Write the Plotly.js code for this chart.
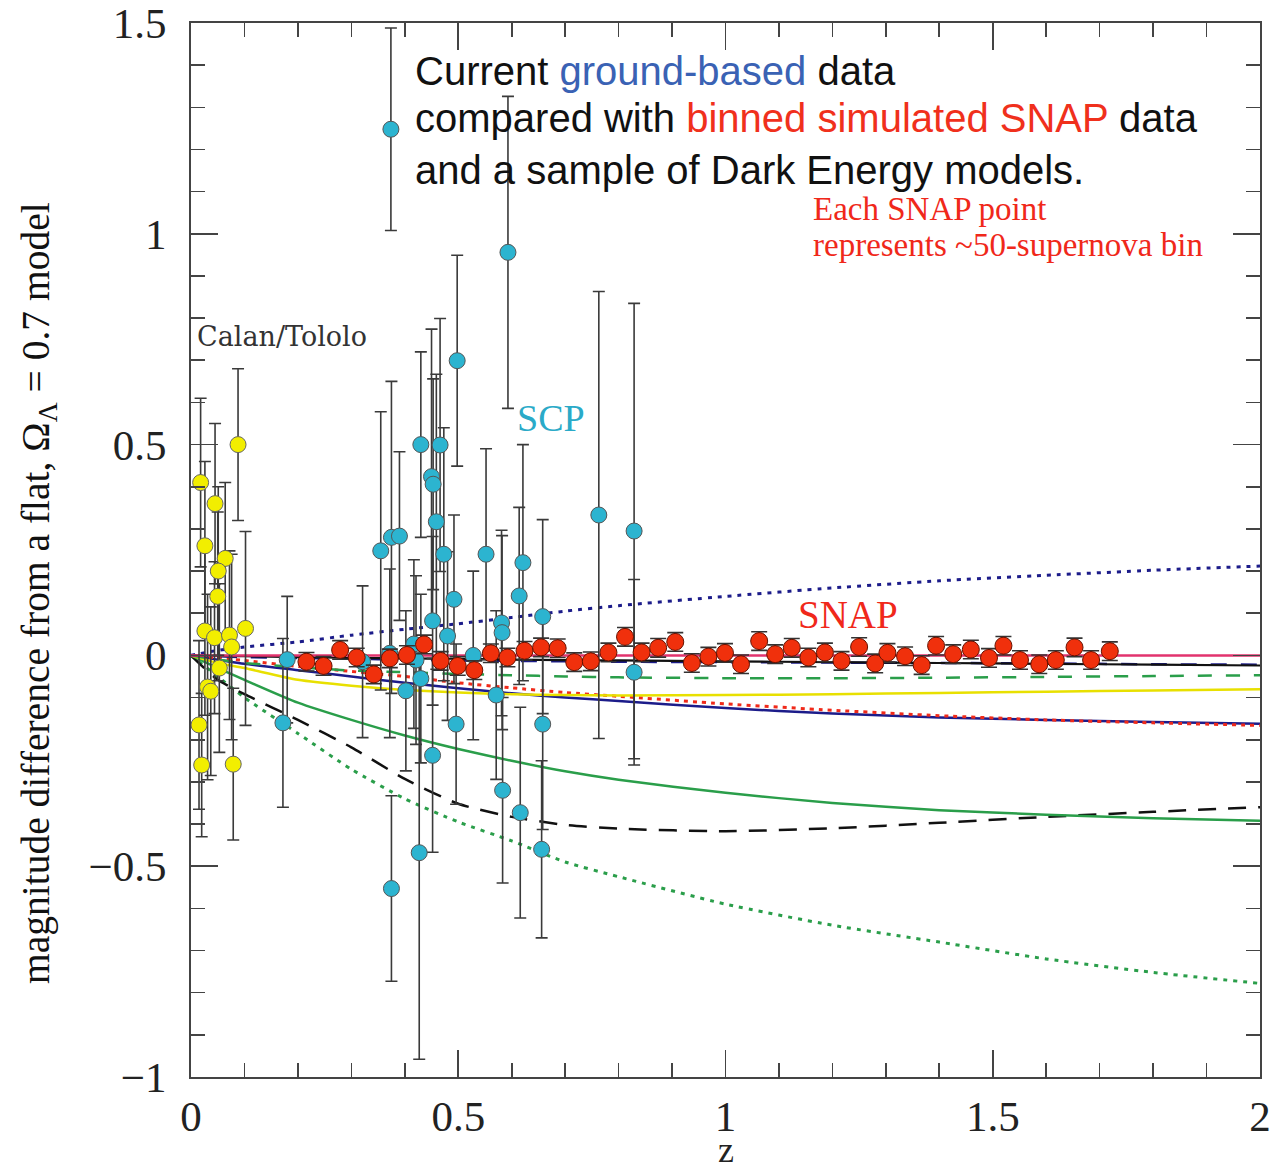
<!DOCTYPE html>
<html>
<head>
<meta charset="utf-8">
<script src="https://cdn.plot.ly/plotly-3.0.1.min.js"></script>
<style>html,body{margin:0;padding:0;background:#fff;} #chart{width:1287px;height:1170px;}</style>
</head>
<body>
<div id="chart"></div>
<script>
// ---------- data ----------
// Calan/Tololo (yellow)
const ctZ   = [0.088, 0.018, 0.045, 0.026, 0.064, 0.051, 0.050, 0.102, 0.026, 0.044, 0.072, 0.076, 0.053, 0.031, 0.037, 0.015, 0.020, 0.079];
const ctMag = [0.50, 0.41, 0.36, 0.26, 0.23, 0.20, 0.14, 0.064, 0.058, 0.042, 0.048, 0.020, -0.030, -0.075, -0.085, -0.165, -0.260, -0.258];
const ctErr = [0.18, 0.20, 0.19, 0.20, 0.18, 0.20, 0.20, 0.23, 0.20, 0.18, 0.20, 0.22, 0.20, 0.22, 0.20, 0.20, 0.17, 0.18];

// SCP (cyan)
const scpZ   = [0.172, 0.180, 0.321, 0.355, 0.372, 0.374, 0.375, 0.375, 0.390, 0.402, 0.417, 0.421, 0.427, 0.430, 0.430, 0.450, 0.453, 0.452, 0.452, 0.459, 0.466, 0.473, 0.480, 0.492, 0.496, 0.498, 0.528, 0.552, 0.571, 0.581, 0.582, 0.583, 0.593, 0.614, 0.616, 0.621, 0.658, 0.658, 0.656, 0.763, 0.829, 0.829];
const scpMag = [-0.16, -0.01, -0.015, 0.248, 0.005, 1.248, 0.28, -0.553, 0.283, -0.084, 0.027, -0.011, -0.468, 0.50, -0.055, 0.424, 0.406, 0.082, -0.237, 0.317, 0.499, 0.24, 0.046, 0.133, -0.163, 0.699, 0.00, 0.24, -0.094, 0.077, 0.054, -0.32, 0.956, 0.141, -0.373, 0.22, 0.092, -0.163, -0.46, 0.333, 0.295, -0.04];
const scpErr = [0.20, 0.15, 0.18, 0.33, 0.20, 0.24, 0.37, 0.22, 0.20, 0.19, 0.20, 0.20, 0.49, 0.22, 0.20, 0.35, 0.25, 0.20, 0.23, 0.35, 0.30, 0.30, 0.20, 0.20, 0.19, 0.25, 0.20, 0.25, 0.20, 0.22, 0.23, 0.22, 0.37, 0.21, 0.25, 0.28, 0.23, 0.25, 0.21, 0.53, 0.54, 0.22];

// simulated SNAP bins (red)
const snapZ   = [0.216, 0.248, 0.279, 0.310, 0.342, 0.372, 0.404, 0.436, 0.467, 0.499, 0.530, 0.561, 0.592, 0.624, 0.655, 0.686, 0.717, 0.748, 0.781, 0.812, 0.843, 0.874, 0.906, 0.937, 0.968, 0.999, 1.029, 1.063, 1.093, 1.124, 1.155, 1.186, 1.217, 1.250, 1.280, 1.303, 1.336, 1.367, 1.394, 1.426, 1.459, 1.493, 1.520, 1.551, 1.587, 1.618, 1.653, 1.684, 1.719];
const snapMag = [-0.015, -0.025, 0.013, -0.005, -0.045, -0.007, 0.001, 0.026, -0.013, -0.025, -0.035, 0.005, -0.005, 0.011, 0.019, 0.017, -0.016, -0.014, 0.007, 0.044, 0.007, 0.018, 0.032, -0.018, -0.003, 0.006, -0.021, 0.034, 0.003, 0.018, -0.005, 0.007, -0.013, 0.020, -0.019, 0.006, -0.002, -0.023, 0.023, 0.003, 0.014, -0.006, 0.023, -0.011, -0.021, -0.011, 0.019, -0.011, 0.010];
const snapErr = 0.022;

// dark energy model curves
const modelZ       = [0, 0.05, 0.1, 0.2, 0.3, 0.4, 0.5, 0.6, 0.7, 0.8, 1.0, 1.2, 1.4, 1.6, 1.8, 2.0];
const pinkSolid    = [0, 0, 0, 0, 0, 0, 0, 0, 0, 0, 0, 0, 0, 0, 0, 0];
const blackSolid   = [0, -0.001, -0.002, -0.004, -0.006, -0.007, -0.008, -0.010, -0.011, -0.012, -0.014, -0.016, -0.018, -0.020, -0.022, -0.024];
const navyDashed   = [0, -0.002, -0.004, -0.006, -0.008, -0.010, -0.012, -0.013, -0.014, -0.015, -0.016, -0.017, -0.018, -0.019, -0.021, -0.022];
const greenDashed  = [0, -0.010, -0.018, -0.028, -0.036, -0.040, -0.044, -0.047, -0.050, -0.052, -0.054, -0.054, -0.053, -0.051, -0.049, -0.047];
const yellowSolid  = [0, -0.018, -0.030, -0.058, -0.072, -0.082, -0.088, -0.092, -0.094, -0.095, -0.094, -0.092, -0.089, -0.086, -0.083, -0.080];
const redDotted    = [0, -0.006, -0.012, -0.026, -0.038, -0.050, -0.065, -0.077, -0.088, -0.097, -0.115, -0.130, -0.143, -0.153, -0.160, -0.166];
const navySolid    = [0, -0.010, -0.020, -0.035, -0.050, -0.065, -0.078, -0.090, -0.100, -0.108, -0.125, -0.138, -0.147, -0.153, -0.158, -0.162];
const navyDotted   = [0, 0.012, 0.020, 0.032, 0.048, 0.062, 0.075, 0.090, 0.105, 0.118, 0.140, 0.160, 0.177, 0.190, 0.202, 0.212];
const greenSolid   = [0, -0.030, -0.058, -0.112, -0.153, -0.190, -0.222, -0.250, -0.275, -0.295, -0.326, -0.350, -0.367, -0.378, -0.386, -0.392];
const blackDashed  = [0, -0.058, -0.092, -0.153, -0.218, -0.293, -0.352, -0.383, -0.402, -0.411, -0.417, -0.410, -0.397, -0.383, -0.371, -0.360];
const greenDotted  = [0, -0.050, -0.100, -0.185, -0.270, -0.340, -0.395, -0.440, -0.490, -0.525, -0.590, -0.640, -0.680, -0.720, -0.752, -0.778];

// tick labels
const xTickVals = [0, 0.5, 1, 1.5, 2];
const xTickText = ['0', '0.5', '1', '1.5', '2'];
const yTickVals = [-1, -0.5, 0, 0.5, 1, 1.5];
const yTickText = ['\u22121', '\u22120.5', '0', '0.5', '1', '1.5'];

// ---------- traces ----------
const W = 1287, H = 1170;
const M = {l: 191, r: 27, t: 23, b: 93};
const pw = W - M.l - M.r, ph = H - M.t - M.b;
const px = v => (v - M.l) / pw;
const py = v => (H - M.b - v) / ph;

function curve(y, color, dash, width) {
  return {x: modelZ, y: y, type: 'scatter', mode: 'lines', hoverinfo: 'skip',
    line: {color: color, dash: dash, width: width || 2.5, shape: 'spline', smoothing: 0.6}};
}

const traces = [
  curve(greenDotted, '#2a9e4a', '4px,6px', 3),
  curve(blackDashed, '#111111', '18px,12px', 2.5),
  curve(greenSolid, '#2a9e4a', 'solid', 2.5),
  curve(navyDotted, '#1c1c8a', '4px,6px', 3),
  curve(navySolid, '#1c1c8a', 'solid', 2.5),
  curve(redDotted, '#f02a1a', '4px,5px', 3),
  curve(yellowSolid, '#e8e000', 'solid', 2.5),
  curve(greenDashed, '#2a9e4a', '14px,14px', 2.5),
  curve(navyDashed, '#1c1c8a', '16px,14px', 2.5),
  curve(blackSolid, '#111111', 'solid', 2.2),
  curve(pinkSolid, '#e2336e', 'solid', 2.5),
  {x: ctZ, y: ctMag, type: 'scatter', mode: 'markers', hoverinfo: 'skip',
    error_y: {type: 'data', array: ctErr, visible: true, color: '#3a3a3a', thickness: 1.6, width: 6},
    marker: {color: '#f2ee00', size: 16, line: {color: '#666', width: 1}}},
  {x: scpZ, y: scpMag, type: 'scatter', mode: 'markers', hoverinfo: 'skip',
    error_y: {type: 'data', array: scpErr, visible: true, color: '#3a3a3a', thickness: 1.6, width: 6},
    marker: {color: '#2cb4d0', size: 16, line: {color: '#555', width: 1}}},
  {x: snapZ, y: snapMag, type: 'scatter', mode: 'markers', hoverinfo: 'skip',
    error_y: {type: 'constant', value: snapErr, visible: true, color: '#333', thickness: 1.6, width: 8},
    marker: {color: '#f0300c', size: 17, line: {color: '#661100', width: 1}}}
];

const axisCommon = {
  showline: true, linecolor: '#444', linewidth: 2, mirror: 'ticks',
  ticks: 'inside', ticklen: 27, tickwidth: 1.6, tickcolor: '#444',
  showgrid: false, zeroline: false, tickmode: 'array',
  minor: {ticks: 'inside', ticklen: 14, tickwidth: 1.6, tickcolor: '#444', dtick: 0.1, tick0: 0, showgrid: false},
  tickfont: {family: 'Liberation Serif, serif', size: 43, color: '#222'}
};

const sans = 'Liberation Sans, Arial, sans-serif';
const serif = 'Liberation Serif, Times New Roman, serif';

const annotations = [
  {text: 'Current <span style="color:#3a62b4">ground-based</span> data', x: px(413), y: py(71)},
  {text: 'compared with <span style="color:#f0301c">binned simulated SNAP</span> data', x: px(413), y: py(118)},
  {text: 'and a sample of Dark Energy models.', x: px(413), y: py(170)},
].map(a => Object.assign(a, {xref: 'paper', yref: 'paper', xanchor: 'left', yanchor: 'middle', showarrow: false,
  font: {family: sans, size: 40, color: '#111'}}));

annotations.push(
  {text: 'Each SNAP point', x: px(811), y: py(209), font: {family: serif, size: 33, color: '#f0281a'}},
  {text: 'represents ~50-supernova bin', x: px(811), y: py(245), font: {family: serif, size: 33, color: '#f0281a'}},
  {text: 'Calan/Tololo', x: px(195), y: py(336), font: {family: 'DejaVu Serif, serif', size: 27, color: '#333'}},
  {text: 'SCP', x: px(515), y: py(418), font: {family: serif, size: 38, color: '#2aaac8'}},
  {text: 'SNAP', x: px(796), y: py(614), font: {family: serif, size: 39, color: '#f0281a'}}
);
annotations.slice(3).forEach(a => Object.assign(a, {xref: 'paper', yref: 'paper', xanchor: 'left', yanchor: 'middle', showarrow: false}));

// axis titles placed as annotations to match the reference position
annotations.push(
  {text: 'magnitude difference from a flat, \u03A9<sub>\u039B</sub> = 0.7 model', textangle: -90,
    x: px(38), y: py(593), xref: 'paper', yref: 'paper', xanchor: 'center', yanchor: 'middle', showarrow: false,
    font: {family: serif, size: 39.5, color: '#111'}},
  {text: 'z', x: px(726), y: py(1150), xref: 'paper', yref: 'paper', xanchor: 'center', yanchor: 'middle', showarrow: false,
    font: {family: serif, size: 36, color: '#222'}}
);

const layout = {
  width: W, height: H, margin: M,
  paper_bgcolor: '#fff', plot_bgcolor: '#fff', showlegend: false,
  xaxis: Object.assign({}, axisCommon, {range: [0, 2], tickvals: xTickVals, ticktext: xTickText, ticklabelstandoff: 0}),
  yaxis: Object.assign({}, axisCommon, {range: [-1, 1.5], tickvals: yTickVals, ticktext: yTickText, ticklabelstandoff: 14}),
  annotations: annotations
};

Plotly.newPlot('chart', traces, layout, {staticPlot: true});
</script>
</body>
</html>
